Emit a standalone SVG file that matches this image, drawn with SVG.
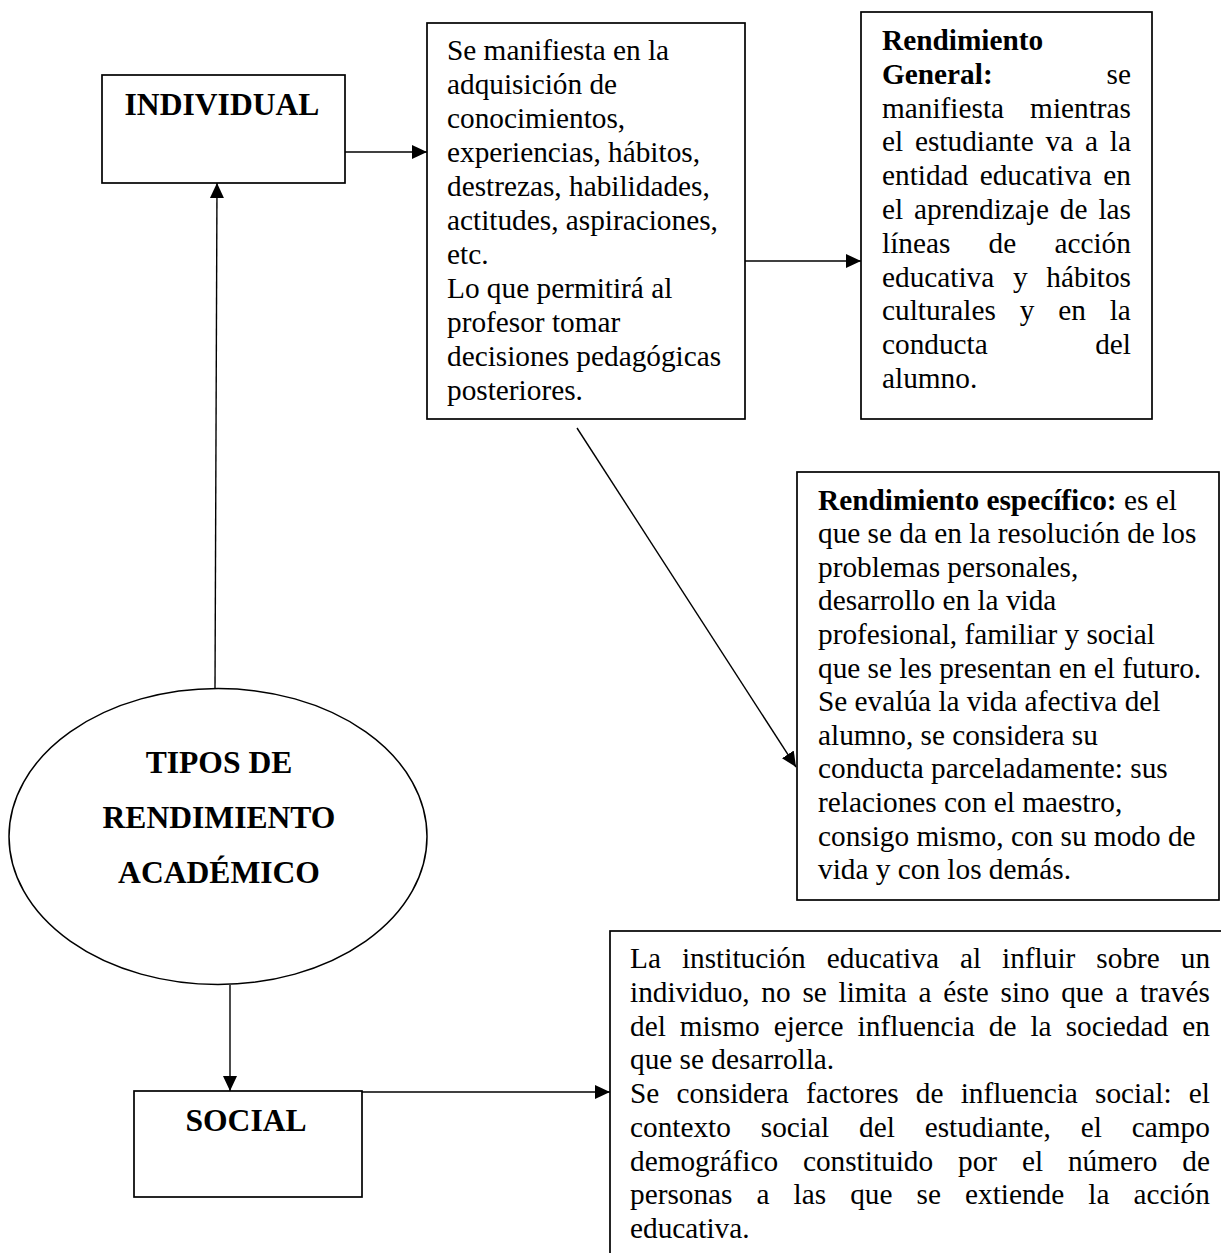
<svg xmlns="http://www.w3.org/2000/svg" width="1221" height="1253" viewBox="0 0 1221 1253">
<style>
.box{fill:#fff;stroke:#000;stroke-width:1.7}
.t{font-family:"Liberation Serif","Times New Roman",serif;font-size:29.3px;fill:#000}
.h{font-family:"Liberation Serif","Times New Roman",serif;font-size:31.6px;font-weight:bold;fill:#000}
.b{font-weight:bold}
.c{fill:none;stroke:#000;stroke-width:1.4}
</style>
<defs>
<marker id="ah" markerUnits="userSpaceOnUse" markerWidth="16" markerHeight="16" viewBox="0 0 16 16" refX="15" refY="8" orient="auto">
<path d="M0,1 L15,8 L0,15 Z" fill="#000"/>
</marker>
</defs>
<rect width="1221" height="1253" fill="#fff"/>

<g id="connectors">
<line class="c" x1="215" y1="689" x2="217" y2="183" marker-end="url(#ah)"/>
<line class="c" x1="345" y1="152" x2="427" y2="152" marker-end="url(#ah)"/>
<line class="c" x1="745" y1="261" x2="861" y2="261" marker-end="url(#ah)"/>
<line class="c" x1="577" y1="428" x2="796" y2="767" stroke-width="1.1" marker-end="url(#ah)"/>
<line class="c" x1="230" y1="985" x2="230" y2="1091" marker-end="url(#ah)"/>
<line class="c" x1="345" y1="1092" x2="610" y2="1092" marker-end="url(#ah)"/>
</g>

<g id="individual">
<rect class="box" x="102" y="75" width="243" height="108"/>
<text class="h" x="222" y="115" text-anchor="middle">INDIVIDUAL</text>
</g>

<g id="manifiesta">
<rect class="box" x="427" y="23" width="318" height="396"/>
<text class="t" x="447" y="60">Se manifiesta en la</text>
<text class="t" x="447" y="94">adquisición de</text>
<text class="t" x="447" y="128">conocimientos,</text>
<text class="t" x="447" y="162">experiencias, hábitos,</text>
<text class="t" x="447" y="196">destrezas, habilidades,</text>
<text class="t" x="447" y="230">actitudes, aspiraciones,</text>
<text class="t" x="447" y="264">etc.</text>
<text class="t" x="447" y="298">Lo que permitirá al</text>
<text class="t" x="447" y="332">profesor tomar</text>
<text class="t" x="447" y="366">decisiones pedagógicas</text>
<text class="t" x="447" y="400">posteriores.</text>
</g>

<g id="general">
<rect class="box" x="861" y="12" width="291" height="407"/>
<text class="t b" x="882" y="50">Rendimiento</text>
<text class="t b" x="882" y="83.8">General:</text>
<text class="t" x="1131" y="83.8" text-anchor="end">se</text>
<text class="t" x="882" y="117.6">manifiesta</text>
<text class="t" x="1131" y="117.6" text-anchor="end">mientras</text>
<text class="t" x="882" y="151.4" style="word-spacing:4.47px">el estudiante va a la</text>
<text class="t" x="882" y="185.2" style="word-spacing:4.07px">entidad educativa en</text>
<text class="t" x="882" y="219" style="word-spacing:3.54px">el aprendizaje de las</text>
<text class="t" x="882" y="252.8" style="word-spacing:30.9px">líneas de acción</text>
<text class="t" x="882" y="286.6" style="word-spacing:11.4px">educativa y hábitos</text>
<text class="t" x="882" y="320.4" style="word-spacing:16.5px">culturales y en la</text>
<text class="t" x="882" y="354.2">conducta</text>
<text class="t" x="1131" y="354.2" text-anchor="end">del</text>
<text class="t" x="882" y="388">alumno.</text>
</g>

<g id="especifico">
<rect class="box" x="797" y="472" width="422" height="428"/>
<text class="t" x="818" y="509.5"><tspan class="b">Rendimiento específico:</tspan> es el</text>
<text class="t" x="818" y="543.1">que se da en la resolución de los</text>
<text class="t" x="818" y="576.7">problemas personales,</text>
<text class="t" x="818" y="610.3">desarrollo en la vida</text>
<text class="t" x="818" y="643.9">profesional, familiar y social</text>
<text class="t" x="818" y="677.5">que se les presentan en el futuro.</text>
<text class="t" x="818" y="711.1">Se evalúa la vida afectiva del</text>
<text class="t" x="818" y="744.7">alumno, se considera su</text>
<text class="t" x="818" y="778.3">conducta parceladamente: sus</text>
<text class="t" x="818" y="811.9">relaciones con el maestro,</text>
<text class="t" x="818" y="845.5">consigo mismo, con su modo de</text>
<text class="t" x="818" y="879.1">vida y con los demás.</text>
</g>

<g id="tipos">
<ellipse cx="218" cy="836.5" rx="209" ry="148" fill="#fff" stroke="#000" stroke-width="1.5"/>
<text class="h" x="219" y="773" text-anchor="middle">TIPOS DE</text>
<text class="h" x="219" y="828" text-anchor="middle">RENDIMIENTO</text>
<text class="h" x="219" y="883" text-anchor="middle">ACADÉMICO</text>
</g>

<g id="social">
<rect class="box" x="134" y="1091" width="228" height="106"/>
<text class="h" x="246" y="1131" text-anchor="middle">SOCIAL</text>
</g>

<g id="institucion">
<rect class="box" x="610" y="931" width="640" height="400"/>
<text class="t" x="630" y="968" style="word-spacing:13.7px">La institución educativa al influir sobre un</text>
<text class="t" x="630" y="1001.75" style="word-spacing:4.4px">individuo, no se limita a éste sino que a través</text>
<text class="t" x="630" y="1035.5" style="word-spacing:6.72px">del mismo ejerce influencia de la sociedad en</text>
<text class="t" x="630" y="1069.25">que se desarrolla.</text>
<text class="t" x="630" y="1103" style="word-spacing:9.88px">Se considera factores de influencia social: el</text>
<text class="t" x="630" y="1136.75" style="word-spacing:22.58px">contexto social del estudiante, el campo</text>
<text class="t" x="630" y="1170.5" style="word-spacing:17.54px">demográfico constituido por el número de</text>
<text class="t" x="630" y="1204.25" style="word-spacing:16.72px">personas a las que se extiende la acción</text>
<text class="t" x="630" y="1238">educativa.</text>
</g>
</svg>
